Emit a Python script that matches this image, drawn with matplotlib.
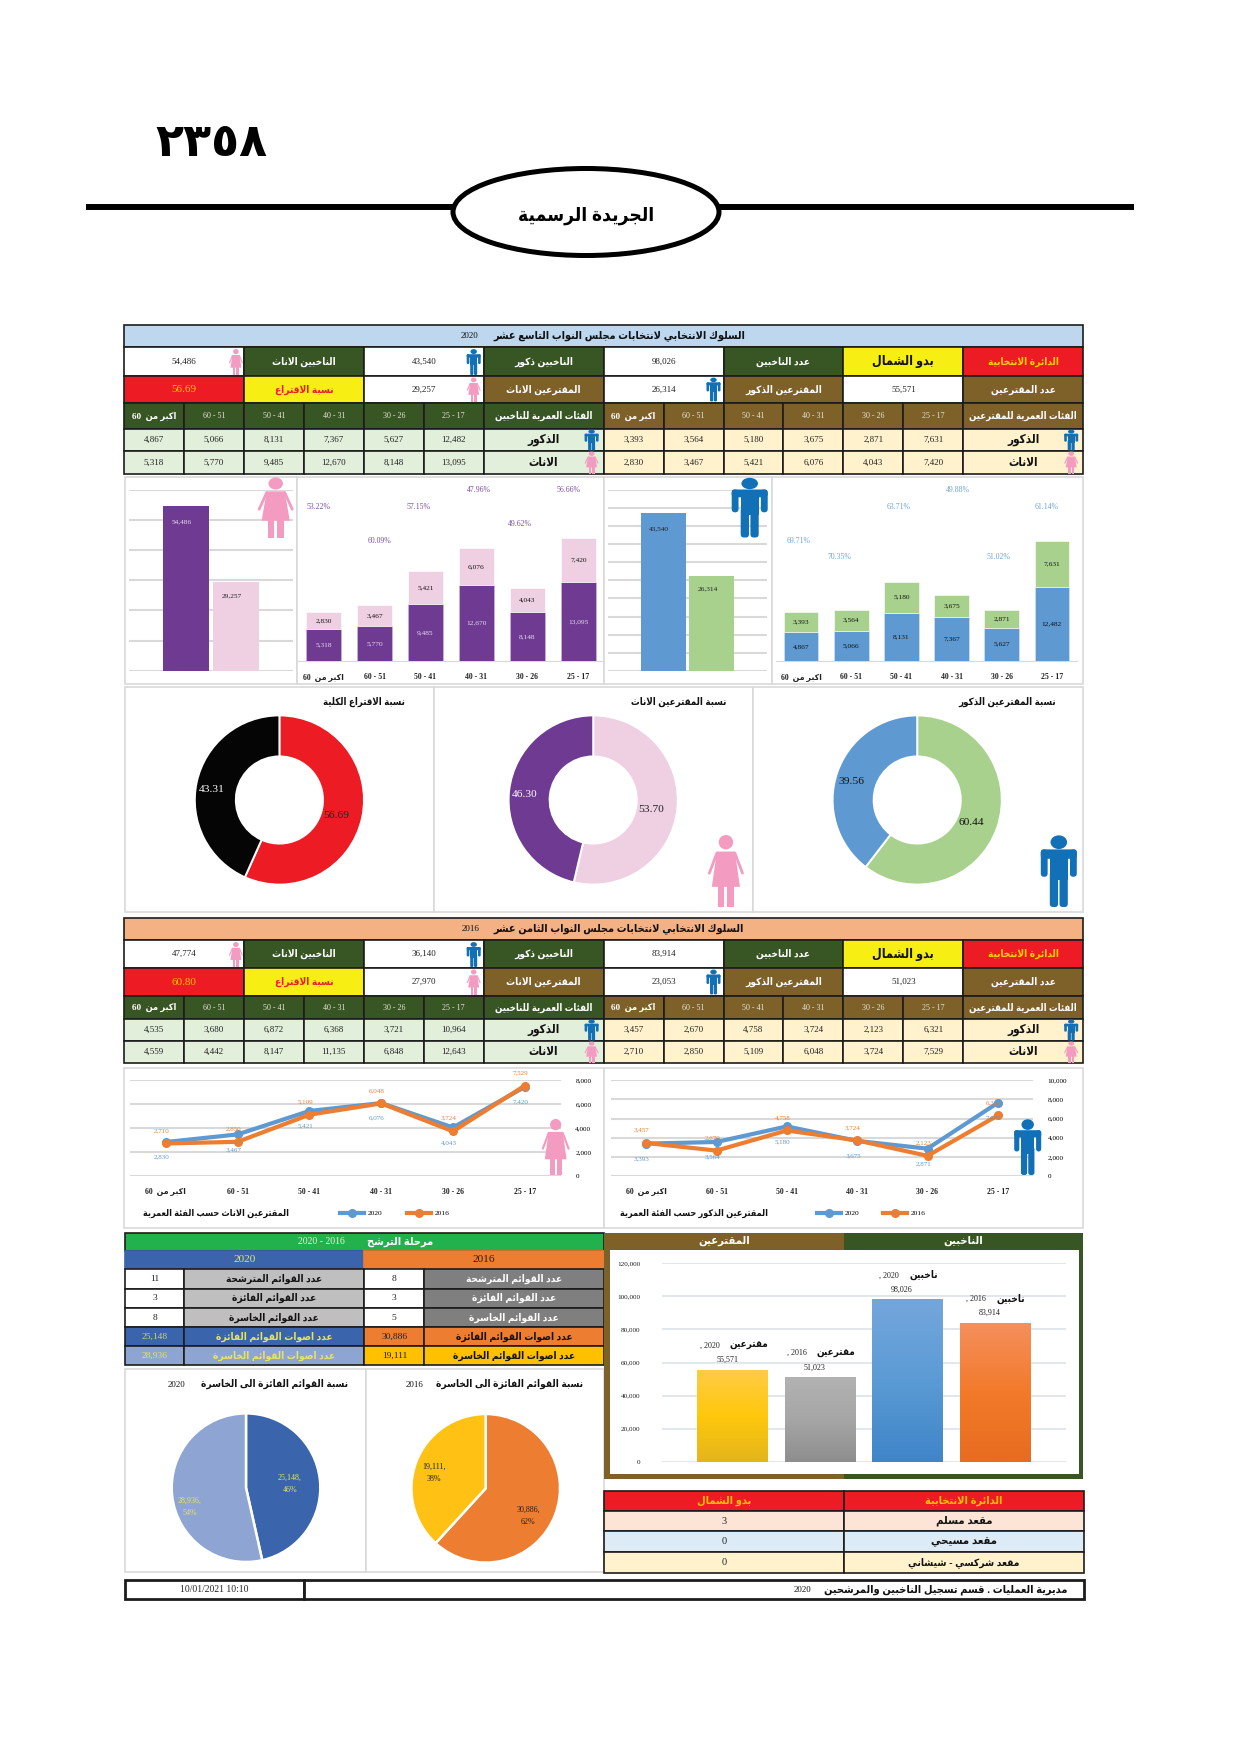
import re
import numpy as np
import matplotlib
matplotlib.use('Agg')
import matplotlib.pyplot as plt
from matplotlib.patches import Rectangle, Ellipse, Polygon, FancyBboxPatch
from matplotlib.colors import LinearSegmentedColormap
from matplotlib.ticker import FuncFormatter

plt.rcParams['font.family'] = ['Liberation Serif', 'DejaVu Sans']

W, H = 1241, 1755

# data 2020
age_labels = ["اكبر من  60", "60 - 51", "50 - 41", "40 - 31", "30 - 26", "25 - 17"]
voters_m_2020 = [4867, 5066, 8131, 7367, 5627, 12482]
voters_f_2020 = [5318, 5770, 9485, 12670, 8148, 13095]
turnout_m_2020 = [3393, 3564, 5180, 3675, 2871, 7631]
turnout_f_2020 = [2830, 3467, 5421, 6076, 4043, 7420]
pct_m_2020 = ["69.71%", "70.35%", "63.71%", "49.88%", "51.02%", "61.14%"]
pct_f_2020 = ["53.22%", "60.09%", "57.15%", "47.96%", "49.62%", "56.66%"]
totals_2020 = [54486, 43540, 98026, 29257, 26314, 55571]
rate_2020 = 56.69

# data 2016
voters_m_2016 = [4535, 3680, 6872, 6368, 3721, 10964]
voters_f_2016 = [4559, 4442, 8147, 11135, 6848, 12643]
turnout_m_2016 = [3457, 2670, 4758, 3724, 2123, 6321]
turnout_f_2016 = [2710, 2850, 5109, 6048, 3724, 7529]
totals_2016 = [47774, 36140, 83914, 27970, 23053, 51023]
rate_2016 = 60.80

# donuts
donut_rate = [56.69, 43.31]
donut_f = [53.70, 46.30]
donut_m = [60.44, 39.56]

# lists stage
lists_2020 = [11, 3, 8, 25148, 28936]
lists_2016 = [8, 3, 5, 30886, 19111]
lists_rows = ["عدد القوائم المترشحة", "عدد القوائم الفائزة", "عدد القوائم الخاسرة",
              "عدد اصوات القوائم الفائزة", "عدد اصوات القوائم الخاسرة"]
pie_pct_2020 = [46, 54]
pie_pct_2016 = [62, 38]

# overall bars
overall_names = ["مقترعين", "مقترعين", "ناخبين", "ناخبين"]
overall_years = [2020, 2016, 2020, 2016]
overall_vals = [55571, 51023, 98026, 83914]

# seats
seat_rows = ["مقعد مسلم", "مقعد مسيحي", "مقعد شركسي - شيشاني"]
seat_vals = [3, 0, 0]

C_BLUE, C_GREEN = '#5E99D1', '#A9D18E'
C_PURPLE, C_PINK = '#6F3A92', '#EFD0E3'
C_DGREEN, C_BROWN = '#375623', '#7E6029'
C_RED, C_YEL = '#ED1C24', '#F7EE14'
C_M, C_F = '#1270B7', '#F39BC1'
C_ORANGE = '#ED7D31'
GRID = '#D9D9D9'

# minimal arabic shaping, matplotlib has no shaper
DUAL = {'ب': 0xFE8F, 'ت': 0xFE95, 'ث': 0xFE99, 'ج': 0xFE9D, 'ح': 0xFEA1, 'خ': 0xFEA5, 'س': 0xFEB1,
        'ش': 0xFEB5, 'ص': 0xFEB9, 'ض': 0xFEBD, 'ط': 0xFEC1, 'ظ': 0xFEC5, 'ع': 0xFEC9, 'غ': 0xFECD,
        'ف': 0xFED1, 'ق': 0xFED5, 'ك': 0xFED9, 'ل': 0xFEDD, 'م': 0xFEE1, 'ن': 0xFEE5, 'ه': 0xFEE9,
        'ي': 0xFEF1, 'ئ': 0xFE89}
RIGHT = {'ا': 0xFE8D, 'أ': 0xFE83, 'إ': 0xFE87, 'آ': 0xFE81, 'ة': 0xFE93, 'د': 0xFEA9, 'ذ': 0xFEAB,
         'ر': 0xFEAD, 'ز': 0xFEAF, 'و': 0xFEED, 'ى': 0xFEEF, 'ؤ': 0xFE85}
LAM_ALEF = {'ا': 0xFEFB, 'أ': 0xFEF7, 'إ': 0xFEF9, 'آ': 0xFEF5}


def has_ar(s):
    return any(c in DUAL or c in RIGHT for c in s)


def ar(s):
    if not has_ar(s):
        return s
    out = []
    prev_joins = False
    i = 0
    while i < len(s):
        c = s[i]
        nxt = s[i + 1] if i + 1 < len(s) else ''
        if c == 'ل' and nxt in LAM_ALEF and nxt:
            out.append(chr(LAM_ALEF[nxt] + (1 if prev_joins else 0)))
            prev_joins = False
            i += 2
            continue
        if c in DUAL:
            next_ok = nxt in DUAL or nxt in RIGHT
            k = {(0, 0): 0, (1, 0): 1, (0, 1): 2, (1, 1): 3}[(int(prev_joins), int(next_ok))]
            out.append(chr(DUAL[c] + k))
            prev_joins = True
        elif c in RIGHT:
            out.append(chr(RIGHT[c] + (1 if prev_joins else 0)))
            prev_joins = False
        else:
            out.append(c)
            prev_joins = False
        i += 1
    rev = ''.join(out)[::-1]
    return re.sub(r'[0-9][0-9,./:]*[0-9]|[0-9]', lambda m: m.group()[::-1], rev)


fig = plt.figure(figsize=(W / 100, H / 100), dpi=100, facecolor='white')


def px_axes(x0, y0, x1, y1, z=2):
    a = fig.add_axes([x0 / W, 1 - y1 / H, (x1 - x0) / W, (y1 - y0) / H], zorder=z)
    a.patch.set_alpha(0)
    return a


bg = px_axes(0, 0, W, H, 0)
fg = px_axes(0, 0, W, H, 10)
for a in (bg, fg):
    a.set_xlim(0, W)
    a.set_ylim(H, 0)
    a.axis('off')


def txt(x, y, s, size=6.5, color='#111111', bold=False, ha='center', ax=fg):
    extra = {}
    if has_ar(s):
        # the source face is narrow
        extra = dict(fontstretch='condensed')
        size = size * 1.1
    ax.text(x, y, ar(s), fontsize=size, color=color, ha=ha, va='center',
            fontweight='bold' if bold else 'normal', **extra)


def cell(x0, y0, x1, y1, fc, s=None, color='#111111', size=6.5, bold=False, ec='#1c1c1c', lw=1.2):
    bg.add_patch(Rectangle((x0, y0), x1 - x0, y1 - y0, fc=fc, ec=ec, lw=lw))
    if s is not None:
        txt((x0 + x1) / 2, (y0 + y1) / 2, s, size, color, bold)


def rr(ax, x0, y0, x1, y1, r, color):
    ax.add_patch(FancyBboxPatch((x0, y0), x1 - x0, y1 - y0, boxstyle=f'round,pad=0,rounding_size={r}',
                                fc=color, ec='none'))


def person(cx, top, h, w, female, ax=fg):
    if female:
        c = C_F
        ax.add_patch(Ellipse((cx, top + .1 * h), .4 * w, .2 * h, fc=c, ec='none'))
        ax.add_patch(Polygon([(cx - .25 * w, top + .23 * h), (cx + .25 * w, top + .23 * h),
                              (cx + .39 * w, top + .72 * h), (cx - .39 * w, top + .72 * h)], fc=c, ec='none'))
        for s in (-1, 1):
            ax.plot([cx + s * .25 * w, cx + s * .46 * w], [top + .25 * h, top + .53 * h], color=c,
                    lw=max(.8, .055 * w), solid_capstyle='round')
            ax.add_patch(Rectangle((cx + min(s * .04, s * .22) * w, top + .7 * h), .18 * w, .3 * h, fc=c, ec='none'))
    else:
        c = C_M
        ax.add_patch(Ellipse((cx, top + .1 * h), .46 * w, .19 * h, fc=c, ec='none'))
        r = .09 * w
        rr(ax, cx - .5 * w, top + .2 * h, cx + .5 * w, top + .33 * h, r, c)
        for s in (-1, 1):
            rr(ax, cx + min(s * .31, s * .5) * w, top + .2 * h, cx + max(s * .31, s * .5) * w, top + .58 * h, r, c)
            rr(ax, cx + min(s * .02, s * .25) * w, top + .5 * h, cx + max(s * .02, s * .25) * w, top + h, r, c)
        ax.add_patch(Rectangle((cx - .25 * w, top + .22 * h), .5 * w, .4 * h, fc=c, ec='none'))


def election_table(y, title, year, band, totals, rate, v_m, v_f, t_m, t_f, title_x, year_x):
    x0, col = 124.0, 119.9
    half = col / 2
    r = y
    cell(x0, r[0], x0 + 8 * col, r[1], band)
    txt(title_x, (r[0] + r[1]) / 2, title, 7.15, bold=True)
    txt(year_x, (r[0] + r[1]) / 2, year, 6.5)
    row1 = [(f'{totals[0]:,}', 'white', '#222222'), ("الناخبين الاناث", C_DGREEN, 'white'),
            (f'{totals[1]:,}', 'white', '#222222'), ("الناخبين ذكور", C_DGREEN, 'white'),
            (f'{totals[2]:,}', 'white', '#222222'), ("عدد الناخبين", C_DGREEN, 'white'),
            ("بدو الشمال", C_YEL, '#111111'), ("الدائرة الانتخابية", C_RED, '#FFD400')]
    row2 = [(f'{rate:.2f}', C_RED, '#FFC000'), ("نسبة الاقتراع", C_YEL, C_RED),
            (f'{totals[3]:,}', 'white', '#222222'), ("المقترعين الاناث", C_BROWN, 'white'),
            (f'{totals[4]:,}', 'white', '#222222'), ("المقترعين الذكور", C_BROWN, 'white'),
            (f'{totals[5]:,}', 'white', '#222222'), ("عدد المقترعين", C_BROWN, 'white')]
    for row, (ya, yb) in ((row1, (r[1], r[2])), (row2, (r[2], r[3]))):
        for i, (s, fc, tc) in enumerate(row):
            is_num = s[0].isdigit()
            size = 6.5 if is_num else (8.2 if s == "بدو الشمال" else 6.6)
            if s == f'{rate:.2f}':
                size = 8
            cell(x0 + i * col, ya, x0 + (i + 1) * col, yb, fc, s, tc, size, not is_num)
    # age rows, left block voters, right block turnout
    blocks = [(0, C_DGREEN, '#E2EFDA', v_m, v_f, "الفئات العمرية للناخبين"),
              (4, C_BROWN, '#FFF2CC', t_m, t_f, "الفئات العمرية للمقترعين")]
    for start, head, body, males, females, name in blocks:
        bx = x0 + start * col
        for i, lab in enumerate(age_labels):
            cx = bx + i * half
            if i == 0:
                cell(cx, r[3], cx + half, r[4], head, lab, 'white', 6.0, True)
            else:
                cell(cx, r[3], cx + half, r[4], head, lab, '#E6E6D8', 5.8)
            cell(cx, r[4], cx + half, r[5], body, f'{males[i]:,}', '#222222', 6.5)
            cell(cx, r[5], cx + half, r[6], body, f'{females[i]:,}', '#222222', 6.5)
        hx = bx + 3 * col
        cell(hx, r[3], hx + col, r[4], head, name, 'white', 6.3, True)
        cell(hx, r[4], hx + col, r[5], body, "الذكور", '#111111', 7.6, True)
        cell(hx, r[5], hx + col, r[6], body, "الاناث", '#111111', 7.6, True)
        person(hx + col - 12, r[4] + .5, r[5] - r[4] - 1, 14, False)
        person(hx + col - 12, r[5] + .5, r[6] - r[5] - 1, 14, True)
    person(x0 + col - 8, r[1] + 2, r[2] - r[1] - 3, 14, True)
    person(x0 + 3 * col - 10, r[1] + 2, r[2] - r[1] - 3, 14, False)
    person(x0 + 3 * col - 10, r[2] + 1.5, r[3] - r[2] - 3, 14, True)
    person(x0 + 5 * col - 10, r[2] + 1.5, r[3] - r[2] - 3, 14, False)


def clean(a):
    for s in a.spines.values():
        s.set_visible(False)
    a.tick_params(left=False, bottom=False, right=False, labelleft=False)


def panel(x0, y0, x1, y1):
    bg.add_patch(Rectangle((x0, y0), x1 - x0, y1 - y0, fc='white', ec=GRID, lw=1.2))


# page head
bg.plot([85.5, 1134], [207, 207], color='black', lw=4.3, solid_capstyle='butt')
bg.add_patch(Ellipse((586, 212), 266, 87, fc='white', ec='black', lw=3.6, zorder=3))
txt(586, 216, "الجريدة الرسمية", 12.5, '#000000', True)
txt(211, 145, "٢٣٥٨", 33, '#000000', True)

# first table
election_table([325, 347, 376, 403, 429, 451, 474], "السلوك الانتخابي لانتخابات مجلس النواب التاسع عشر", "2020",
               '#BDD7EE', totals_2020, rate_2020, voters_m_2020, voters_f_2020, turnout_m_2020, turnout_f_2020,
               619, 470)

# bar panels
panel(125, 477, 297, 684)
panel(297, 477, 604, 684)
panel(604, 477, 772, 684)
panel(772, 477, 1083, 684)


def two_bars(box, unit, centre, vals, cols, ymax, step, width, tcols):
    a = px_axes(*box)
    b = a.bar([0, 1], vals, width=width, color=cols, zorder=3)
    left = (box[0] - centre) / unit
    a.set_xlim(left, left + (box[2] - box[0]) / unit)
    a.set_ylim(0, ymax)
    a.set_yticks(np.arange(0, ymax + 1, step))
    a.grid(axis='y', color=GRID, lw=1.5, zorder=0)
    a.set_xticks([])
    clean(a)
    for r, v, c, dy in zip(b, vals, tcols, (-15.5, -13.5)):
        a.annotate(f'{v:,}', (r.get_x() + r.get_width() / 2, v), xytext=(-3, dy * .72), textcoords='offset points',
                   ha='center', va='center', fontsize=5.3, color=c, zorder=5)


def stacked(box, unit_h, lower, upper, c1, c2, t1, t2, pct, pct_pos, pct_col):
    a = px_axes(*box)
    x = np.arange(6)
    a.bar(x, lower, width=.69, color=c1, edgecolor='#C9B6D6' if c1 == C_PURPLE else '#CFE2F3', lw=.5, zorder=3)
    a.bar(x, upper, bottom=lower, width=.69, color=c2, edgecolor='white', lw=.4, zorder=3)
    a.set_xlim(-.5, 5.5)
    a.set_ylim(0, (box[3] - box[1]) / unit_h)
    for s in ('top', 'left', 'right'):
        a.spines[s].set_visible(False)
    a.spines['bottom'].set_color(GRID)
    a.tick_params(left=False, bottom=False, labelleft=False, pad=5.5)
    a.set_xticks(x, [ar(s) for s in age_labels], fontsize=5.6, fontweight='bold', color='#222222')
    for i in range(6):
        a.text(i, lower[i] / 2, f'{lower[i]:,}', ha='center', va='center', fontsize=5.3, color=t1, zorder=5)
        a.text(i, lower[i] + upper[i] / 2, f'{upper[i]:,}', ha='center', va='center', fontsize=5.3, color=t2, zorder=5)
    for s, (px, py) in zip(pct, pct_pos):
        txt(px, py, s, 5.6, pct_col)


two_bars((129, 489.7, 293, 670.7), 50.3, 185.7, [totals_2020[0], totals_2020[3]], [C_PURPLE, C_PINK],
         60000, 10000, .915, ['#E6DDEE', '#222222'])
stacked((298, 477, 604, 661), .00601, voters_f_2020, turnout_f_2020, C_PURPLE, C_PINK, '#E6DDEE', '#111111',
        pct_f_2020, [(319, 507), (379, 541), (419, 507), (479, 490), (520, 524), (569, 490)], '#7B4FA0')
two_bars((608, 489.7, 767, 671), 48.3, 663.4, [totals_2020[1], totals_2020[4]], [C_BLUE, C_GREEN],
         50000, 5000, .93, ['#222222', '#222222'])
stacked((776, 477, 1077, 661), .00595, voters_m_2020, turnout_m_2020, C_BLUE, C_GREEN, '#111111', '#111111',
        pct_m_2020, [(799, 541), (839, 557), (899, 507), (958, 490), (998, 557), (1047, 507)], '#6FA3D6')
person(275.7, 477.5, 60, 36, True)
person(749.7, 477.5, 60, 36, False)

# donuts
panel(125, 687, 434.4, 912)
panel(434.4, 687, 752.6, 912)
panel(752.6, 687, 1083, 912)
R = 84.6


def donut(cx, cy, vals, cols, tcols):
    k = 1.04
    a = px_axes(cx - R * k, cy - R * k, cx + R * k, cy + R * k)
    w, _, auto = a.pie(vals, colors=cols, startangle=90, counterclock=False, radius=1,
                       autopct=lambda p: '', pctdistance=.75,
                       wedgeprops=dict(width=.485, edgecolor='white', linewidth=1.4))
    a.set_xlim(-k, k)
    a.set_ylim(-k, k)
    for t, v, c in zip(auto, vals, tcols):
        t.set_text(f'{v:.2f}')
        t.set_fontsize(8.2)
        t.set_color(c)
        px, py = t.get_position()
        t.set_position((px - .066, py - .027))


donut(279.4, 800, donut_rate, [C_RED, '#050505'], ['#222222', 'white'])
donut(593.2, 800, donut_f, [C_PINK, C_PURPLE], ['#222222', 'white'])
donut(917.2, 800, donut_m, [C_GREEN, C_BLUE], ['#111111', '#111111'])
txt(405, 702, "نسبة الاقتراع الكلية", 6.3, bold=True, ha='right')
txt(726, 702, "نسبة المقترعين الاناث", 6.4, bold=True, ha='right')
txt(1056, 702, "نسبة المقترعين الذكور", 6.4, bold=True, ha='right')
person(725.9, 835, 72, 36, True)
person(1058.8, 835, 72, 36, False)

# second table
election_table([918, 940, 968, 996, 1019, 1041, 1063], "السلوك الانتخابي لانتخابات مجلس النواب الثامن عشر", "2016",
               '#F4B183', totals_2016, rate_2016, voters_m_2016, voters_f_2016, turnout_m_2016, turnout_f_2016,
               619, 471)

# line charts
panel(124, 1068, 604, 1228)
panel(604, 1068, 1083, 1228)


def line_chart(box, a2020, a2016, ymax, title, tx, legend_x):
    a = px_axes(*box)
    x = np.arange(6)
    a.plot(x, a2020, color=C_BLUE, lw=3, marker='o', ms=5.5, label='2020', zorder=3, clip_on=False)
    a.plot(x, a2016, color=C_ORANGE, lw=3, marker='o', ms=5.5, label='2016', zorder=4, clip_on=False)
    a.set_xlim(-.5, 5.5)
    a.set_ylim(0, ymax)
    a.set_yticks(np.arange(0, ymax + 1, 2000))
    a.yaxis.set_major_formatter(FuncFormatter(lambda v, _: f'{v:,.0f}'))
    a.yaxis.tick_right()
    a.grid(axis='y', color=GRID, lw=1.5, zorder=0)
    for s in a.spines.values():
        s.set_visible(False)
    a.tick_params(left=False, right=False, bottom=False, labelsize=5.2, pad=7)
    a.tick_params(axis='x', pad=5)
    a.set_xticks(x, [ar(s) for s in age_labels], fontsize=5.6, fontweight='bold', color='#222222')
    for i in range(6):
        a.annotate(f'{a2016[i]:,}', (i, a2016[i]), xytext=(-3, 9.4), textcoords='offset points', ha='center',
                   va='center', fontsize=5.0, color=C_ORANGE, zorder=6)
        a.annotate(f'{a2020[i]:,}', (i, a2020[i]), xytext=(-3, -10.8), textcoords='offset points', ha='center',
                   va='center', fontsize=5.0, color=C_BLUE, zorder=6)
    a.legend(loc='center left', bbox_to_anchor=(legend_x / W, 1 - 1213 / H), bbox_transform=fig.transFigure, ncol=2,
             frameon=False, fontsize=5.4, borderpad=0, borderaxespad=0, handlelength=3.2, handletextpad=.5,
             columnspacing=3.2)
    txt(tx, 1213, title, 5.95, bold=True, ha='right')


line_chart((130, 1080, 560.7, 1176), turnout_f_2020, turnout_f_2016, 8000, "المقترعين الاناث حسب الفئة العمرية", 289, 340)
line_chart((611, 1080, 1033, 1176.3), turnout_m_2020, turnout_m_2016, 10000, "المقترعين الذكور حسب الفئة العمرية", 767.7, 816.7)
person(555.7, 1119, 56, 28, True)
person(1027.7, 1119, 56, 27, False)

# lists stage
cell(125, 1233, 604.3, 1250.7, '#22B14C', None, ec='#1c1c1c')
txt(367, 1242, "مرحلة الترشح", 7.2, 'white', True, ha='left')
txt(321, 1242, "2020 - 2016", 7, '#E8F5D0')
cell(125, 1250.7, 364.3, 1269.3, '#3A64AB', "2020", '#E8E560', 8.2, ec='#3A64AB')
cell(364.3, 1250.7, 604.3, 1269.3, C_ORANGE, "2016", '#222222', 8.2, ec=C_ORANGE)
rows_y = [1269.3, 1288.7, 1308, 1327, 1346.3, 1365.3]
row_sizes = [6.6, 6.6, 6.6, 6.6, 6.6]
for i, name in enumerate(lists_rows):
    y0, y1 = rows_y[i], rows_y[i + 1]
    if i < 3:
        fill_l, fill_r, lab_l, lab_r, val_l, val_r = 'white', 'white', '#BFBFBF', '#7F7F7F', '#222222', '#222222'
        tl, tr = '#111111', 'white'
    elif i == 3:
        fill_l, fill_r, lab_l, lab_r, val_l, val_r = '#3A64AB', C_ORANGE, '#3A64AB', C_ORANGE, '#C9D86A', '#222222'
        tl, tr = '#E8E560', '#111111'
    else:
        fill_l, fill_r, lab_l, lab_r, val_l, val_r = '#8EA4D2', '#FFC000', '#8EA4D2', '#FFC000', '#E8E560', '#222222'
        tl, tr = '#E8E560', '#111111'
    cell(125, y0, 184.3, y1, fill_l, f'{lists_2020[i]:,}', val_l, 6.8)
    cell(184.3, y0, 364.3, y1, lab_l, name, tl, row_sizes[i], True)
    cell(364.3, y0, 424.3, y1, fill_r, f'{lists_2016[i]:,}', val_r, 6.8)
    cell(424.3, y0, 604.3, y1, lab_r, name, tr, row_sizes[i], True)

# pies
panel(125, 1369, 365.7, 1572)
panel(365.7, 1369, 604.3, 1572)
pie_r = 74.3


def pie(cx, cy, vals, pcts, cols, tcol, pos):
    k = 1.03
    a = px_axes(cx - pie_r * k, cy - pie_r * k, cx + pie_r * k, cy + pie_r * k)
    a.pie(vals, colors=cols, startangle=90, counterclock=False, radius=1,
          wedgeprops=dict(edgecolor='white', linewidth=1.8))
    a.set_xlim(-k, k)
    a.set_ylim(-k, k)
    for v, p, (px, py) in zip(vals, pcts, pos):
        fg.text(px, py, f'{v:,},\n\n{p}%', fontsize=5.8, color=tcol, ha='center', va='center', linespacing=.7)


pie(246, 1487.7, lists_2020[3:], pie_pct_2020, ['#3A64AB', '#8EA4D2'], '#E8E560', [(290, 1484), (190, 1507)])
pie(485.7, 1488.3, lists_2016[3:], pie_pct_2016, [C_ORANGE, '#FFC114'], '#222222', [(528, 1516), (434, 1473)])
txt(347.7, 1384, "نسبة القوائم الفائزة الى الخاسرة", 6.6, bold=True, ha='right')
txt(177, 1385, "2020", 6.4)
txt(583, 1384, "نسبة القوائم الفائزة الى الخاسرة", 6.6, bold=True, ha='right')
txt(414, 1385, "2016", 6.4)

# overall bars with frame
bg.add_patch(Rectangle((604, 1233), 240.3, 246, fc=C_BROWN, ec='none'))
bg.add_patch(Rectangle((844.3, 1233), 238.7, 246, fc=C_DGREEN, ec='none'))
bg.add_patch(Rectangle((610, 1250), 469.3, 224.3, fc='white', ec='none'))
txt(724, 1241, "المقترعين", 7.4, 'white', True)
txt(963, 1241, "الناخبين", 7.4, 'white', True)
ov = px_axes(661.7, 1263.3, 1066, 1461.7)
ov_cols = ['#FFC000', '#A5A5A5', '#5B9BD5', '#ED7D31']
ov_maps = [['#FFCB45', '#FFC80C', '#E4B51C'], ['#B2B2B2', '#A6A6A6', '#8E8E8E'],
           ['#74A6DC', '#5B9BD5', '#3F85C8'], ['#F58F5C', '#F27A2A', '#E86C20']]
ov_x = np.arange(4)
ov_bars = ov.bar(ov_x, overall_vals, width=.81, color=ov_cols, zorder=3)
ov_left = (661.7 - 732.7) / 87.4
for r, m in zip(ov_bars, ov_maps):
    grad = np.linspace(0, 1, 64)[:, None]
    ov.imshow(grad, cmap=LinearSegmentedColormap.from_list('g', m), aspect='auto', zorder=4,
              extent=[r.get_x(), r.get_x() + r.get_width(), 0, r.get_height()], origin='upper')
ov.set_xlim(ov_left, ov_left + (1066 - 661.7) / 87.4)
ov.set_ylim(0, 120000)
ov.set_yticks(np.arange(0, 120001, 20000))
ov.yaxis.set_major_formatter(FuncFormatter(lambda v, _: f'{v:,.0f}'))
ov.grid(axis='y', color='#DDE3EA', lw=1.2, zorder=0)
for s in ov.spines.values():
    s.set_visible(False)
ov.tick_params(left=False, bottom=False, labelsize=5.2, pad=12, labelcolor='#222222')
ov.set_xticks([])
for i, v in enumerate(overall_vals):
    name_shift = 19 if overall_names[i] == "ناخبين" else 23
    ov.annotate(f'{v:,}', (i, v), xytext=(-4, 7.2), textcoords='offset points', ha='center', va='center',
                fontsize=5.8, color='#222222', zorder=6)
    ov.annotate(ar(overall_names[i]), (i, v), xytext=(11.5, 17.5), textcoords='offset points',
                ha='center', va='center', fontsize=7.2, fontweight='bold', fontstretch='condensed',
                color='#111111', zorder=6)
    ov.annotate(f', {overall_years[i]}', (i, v), xytext=(-name_shift * .72, 17.5), textcoords='offset points',
                ha='center', va='center', fontsize=5.8, color='#222222', zorder=6)

# seats
cell(604, 1491, 844.3, 1510.7, C_RED, "بدو الشمال", '#FFC000', 7.2, True)
cell(844.3, 1491, 1083.7, 1510.7, C_RED, "الدائرة الانتخابية", '#FFC000', 7.2, True)
seat_fill = ['#FCE4D6', '#DDEBF7', '#FFF2CC']
seat_y = [1510.7, 1531.3, 1552.3, 1573.3]
seat_sizes = [7.4, 7.4, 6.7]
for i in range(3):
    cell(604, seat_y[i], 844.3, seat_y[i + 1], seat_fill[i], str(seat_vals[i]), '#222222', 7.4)
    cell(844.3, seat_y[i], 1083.7, seat_y[i + 1], seat_fill[i], seat_rows[i], '#111111', seat_sizes[i], True)

# footer
cell(125, 1580, 304.3, 1599.3, 'white', "10/01/2021 10:10", '#222222', 6.9, lw=2)
cell(304.3, 1580, 1084, 1599.3, 'white', lw=2)
txt(1068, 1589.5, "مديرية العمليات . قسم تسجيل الناخبين والمرشحين", 7.2, bold=True, ha='right')
txt(802, 1590, "2020", 6.4)

fig.savefig('out.png', dpi=100)
